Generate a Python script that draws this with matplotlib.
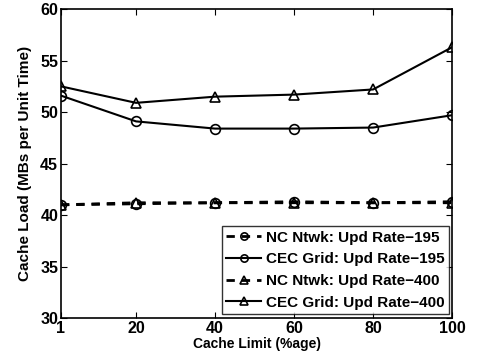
import matplotlib
matplotlib.use('Agg')
import matplotlib.pyplot as plt

plt.rcParams['font.family'] = ['Liberation Sans', 'DejaVu Sans']
plt.rcParams['font.weight'] = 'bold'

# 数据
cache_limit = [1, 20, 40, 60, 80, 100]
nc_195 = [41.0, 41.1, 41.2, 41.3, 41.2, 41.3]
cec_195 = [51.6, 49.1, 48.4, 48.4, 48.5, 49.7]
nc_400 = [41.0, 41.2, 41.2, 41.2, 41.2, 41.2]
cec_400 = [52.5, 50.9, 51.5, 51.7, 52.2, 56.3]
x_ticks = [1, 20, 40, 60, 80, 100]
y_ticks = [30, 35, 40, 45, 50, 55, 60]

fig = plt.figure(figsize=(4.8, 3.64), dpi=100)
ax = fig.add_axes([0.127, 0.126, 0.815, 0.849])

mk = dict(markersize=7, markerfacecolor='none', markeredgecolor='k', markeredgewidth=1.2)
ax.plot(cache_limit, nc_195, 'k--', marker='o', lw=2, dashes=(3, 2.5), label='NC Ntwk: Upd Rate\u2212195', **mk)
ax.plot(cache_limit, cec_195, 'k-', marker='o', lw=1.5, label='CEC Grid: Upd Rate\u2212195', **mk)
ax.plot(cache_limit, nc_400, 'k--', marker='^', lw=2, dashes=(3, 2.5), label='NC Ntwk: Upd Rate\u2212400', **mk)
ax.plot(cache_limit, cec_400, 'k-', marker='^', lw=1.5, label='CEC Grid: Upd Rate\u2212400', **mk)

ax.set_xlim(1, 100)
ax.set_ylim(30, 60)
ax.set_xticks(x_ticks)
ax.set_yticks(y_ticks)
ax.tick_params(direction='in', top=True, right=True, labelsize=11.5, length=4, width=0.8, pad=2)
for lab in ax.get_xticklabels() + ax.get_yticklabels():
    lab.set_fontweight('bold')
for s in ax.spines.values():
    s.set_linewidth(1.2)

ax.set_xlabel('Cache Limit (%age)', fontsize=10, fontweight='bold', labelpad=1)
ax.set_ylabel('Cache Load (MBs per Unit Time)', fontsize=11, fontweight='bold', labelpad=6)

leg = ax.legend(loc='lower right', bbox_to_anchor=(0.992, 0.013), fontsize=11, fancybox=False,
                edgecolor='k', borderaxespad=0.0, handlelength=2.3, handletextpad=0.3,
                labelspacing=0.5, borderpad=0.3, markerscale=0.75)
leg.get_frame().set_linewidth(1.0)
for t in leg.get_texts():
    t.set_fontweight('bold')

fig.savefig('out.png', dpi=100)
